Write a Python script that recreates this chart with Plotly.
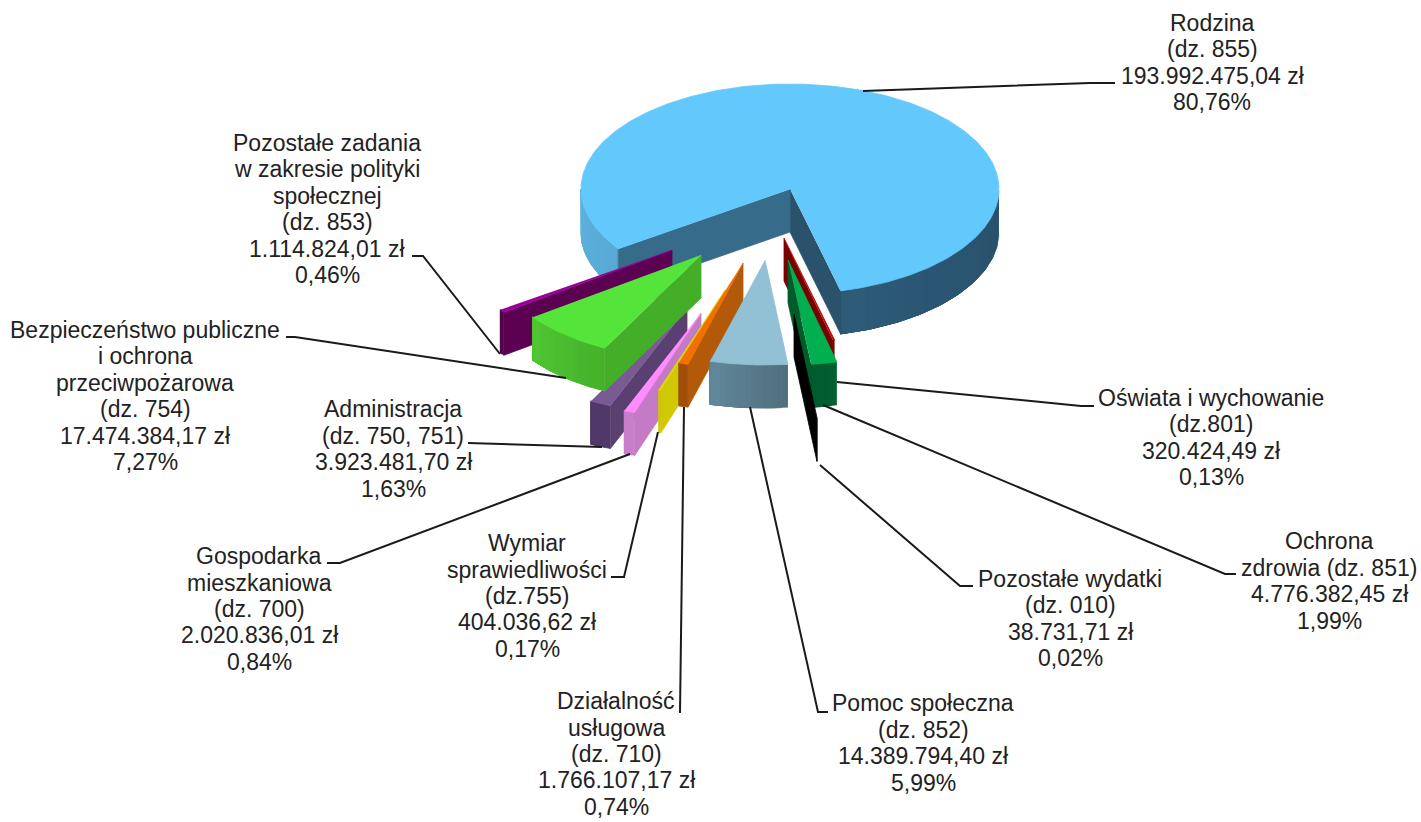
import numpy as np
import plotly.graph_objects as go

# ---------- data (clockwise, starting right after the large slice) ----------
categories = ["Oświata i wychowanie", "Ochrona zdrowia", "Pozostałe wydatki", "Pomoc społeczna",
              "Działalność usługowa", "Wymiar sprawiedliwości", "Gospodarka mieszkaniowa",
              "Administracja", "Bezpieczeństwo publiczne", "Pozostałe zadania", "Rodzina"]
amounts = [320424.49, 4776382.45, 38731.71, 14389794.40, 1766107.17, 404036.62, 2020836.01,
           3923481.70, 17474384.17, 1114824.01, 193992475.04]
label_lines = [
    ["Oświata i wychowanie", "(dz.801)", "320.424,49 zł", "0,13%"],
    ["Ochrona", "zdrowia (dz. 851)", "4.776.382,45 zł", "1,99%"],
    ["Pozostałe wydatki", "(dz. 010)", "38.731,71 zł", "0,02%"],
    ["Pomoc społeczna", "(dz. 852)", "14.389.794,40 zł", "5,99%"],
    ["Działalność", "usługowa", "(dz. 710)", "1.766.107,17 zł", "0,74%"],
    ["Wymiar", "sprawiedliwości", "(dz.755)", "404.036,62 zł", "0,17%"],
    ["Gospodarka", "mieszkaniowa", "(dz. 700)", "2.020.836,01 zł", "0,84%"],
    ["Administracja", "(dz. 750, 751)", "3.923.481,70 zł", "1,63%"],
    ["Bezpieczeństwo publiczne", "i ochrona", "przeciwpożarowa", "(dz. 754)", "17.474.384,17 zł", "7,27%"],
    ["Pozostałe zadania", "w zakresie polityki", "społecznej", "(dz. 853)", "1.114.824,01 zł", "0,46%"],
    ["Rodzina", "(dz. 855)", "193.992.475,04 zł", "80,76%"],
]

# ---------- layout / style (not data) ----------
RX, RY, DEPTH = 209, 105, 43
START = 14.0  # degrees right of "straight down" where the first slice begins
LINE_STEP = 26.35
apex = [(784, 238), (788, 260), (794, 314), (765, 260), (743, 263), (725, 290),
        (701, 313), (687, 308), (701, 255), (672, 250), (790, 189)]
top_col = ["#c00000", "#00b050", "#000000", "#92c0d4", "#f27000", "#e0d800",
           "#ff8cff", "#7a5a94", "#55e53a", "#990099", "#63c8fc"]
wall_col = [("#780000", "#780000"), ("#005c28", "#005c28"), ("#000000", "#000000"), ("#4f6e7d", "#4f6e7d"),
            ("#b35a0a", "#b35a0a"), ("#d0c800", "#d0c800"), ("#c47ac4", "#c47ac4"), ("#5a4070", "#5a4070"),
            ("#44ae28", "#44ae28"), ("#5c0052", "#5c0052"), ("#376b8a", "#2a526b")]  # (hi edge, lo edge)
rim_col = [[("#7a0000", "#7a0000")], [("#006030", "#005c2c")], [("#000000", "#000000")],
           [("#4f6e7d", "#60879a")], [("#a04f08", "#a04f08")], [("#d0c800", "#d0c800")],
           [("#c87ec8", "#c87ec8")], [("#50386a", "#50386a")], [("#45b02a", "#4fc632")],
           [("#50004a", "#50004a")], [("#58a8d4", "#5eb2de"), ("#28506a", "#2d5a78")]]
draw_order = [10, 9, 7, 6, 5, 4, 8, 3, 0, 1, 2]

label_pos = [(1211, 437.5), (1329, 581), (1070, 618.5), (923, 743), (616, 754), (527, 596),
             (259, 609), (393, 449), (145, 396), (327, 209), (1212, 62.5)]
leaders = [
    [(837, 382), (1081, 406), (1094, 406)],
    [(823, 405), (1225, 574), (1236, 574)],
    [(820, 465), (960, 586), (973, 586)],
    [(750, 407), (818, 712), (828, 712)],
    [(684, 407), (680, 713)],
    [(658, 432), (624, 577), (611, 577)],
    [(630, 454), (340, 563), (327, 563)],
    [(602, 447), (468, 443)],
    [(566, 378), (295, 337), (286, 337)],
    [(500, 354), (423, 256), (412, 256)],
    [(863, 91), (1090, 83), (1115, 83)],
]


def hex2rgb(c):
    return np.array([int(c[i:i + 2], 16) for i in (1, 3, 5)], float)


def mix(a, b, t):
    v = hex2rgb(a) * (1 - t) + hex2rgb(b) * t
    return "rgb(%d,%d,%d)" % tuple(v.round())


def pt(ap, r):
    return ap[0] + RX * np.sin(np.radians(r)), ap[1] + RY * np.cos(np.radians(r))


fig = go.Figure()


def poly(xs, ys, color, name, width=0.8):
    fig.add_trace(go.Scatter(x=list(xs), y=list(ys), mode="lines", fill="toself", fillcolor=color,
                             line=dict(color=color, width=width), hoverinfo="skip", name=name,
                             showlegend=False))


total = sum(amounts)
sweep = [a / total * 360 for a in amounts]
edges = START - np.concatenate([[0], np.cumsum(sweep)])

for i in draw_order:
    hi, lo, ap, nm = edges[i], edges[i + 1], apex[i], categories[i]
    # outer rim, only where it faces the viewer
    rs = np.linspace(hi, lo, max(3, int((hi - lo) / 1.5) + 2))
    groups, cur = [], []
    for r in rs:
        if np.cos(np.radians(r)) > -1e-9:
            cur.append(r)
        elif cur:
            groups.append(cur)
            cur = []
    if cur:
        groups.append(cur)
    for g, (c0, c1) in zip(groups, rim_col[i]):
        n = max(1, min(len(g) - 1, 12))
        for k in range(n):
            # each band runs on to the end of the rim; the next band paints over it, so no seams show
            p = [pt(ap, r) for r in g[k * (len(g) - 1) // n:]]
            xs = [q[0] for q in p] + [q[0] for q in p[::-1]]
            ys = [q[1] for q in p] + [q[1] + DEPTH for q in p[::-1]]
            poly(xs, ys, mix(c0, c1, (k + 0.5) / n), nm, width=0.4)
    # cut walls
    if np.sin(np.radians(lo)) > 0:
        q = pt(ap, lo)
        poly([ap[0], ap[0], q[0], q[0]], [ap[1], ap[1] + DEPTH, q[1] + DEPTH, q[1]], wall_col[i][1], nm)
    if np.sin(np.radians(hi)) < 0:
        q = pt(ap, hi)
        poly([ap[0], ap[0], q[0], q[0]], [ap[1], ap[1] + DEPTH, q[1] + DEPTH, q[1]], wall_col[i][0], nm)
    # top face
    rs = np.linspace(hi, lo, max(3, int((hi - lo) / 1.0) + 2))
    p = [pt(ap, r) for r in rs]
    poly([ap[0]] + [q[0] for q in p], [ap[1]] + [q[1] for q in p], top_col[i], nm)

for L in leaders:
    fig.add_trace(go.Scatter(x=[q[0] for q in L], y=[q[1] for q in L], mode="lines",
                             line=dict(color="#1a1a1a", width=2), hoverinfo="skip", showlegend=False))

for lines, (lx, ly) in zip(label_lines, label_pos):
    y0 = ly - LINE_STEP * (len(lines) - 1) / 2
    for k, line in enumerate(lines):
        fig.add_annotation(x=lx, y=y0 + k * LINE_STEP, text=line, showarrow=False, xanchor="center",
                           yanchor="middle", align="center",
                           font=dict(family="Liberation Sans", size=23, color="#222222"))

fig.update_layout(width=1421, height=822, margin=dict(l=0, r=0, t=0, b=0),
                  paper_bgcolor="white", plot_bgcolor="white", showlegend=False,
                  xaxis=dict(range=[0, 1421], visible=False, fixedrange=True),
                  yaxis=dict(range=[822, 0], visible=False, fixedrange=True))
fig.write_html("out.html", config={"displayModeBar": False},
               post_script="document.body.style.margin='0';document.documentElement.style.overflow='hidden';")
